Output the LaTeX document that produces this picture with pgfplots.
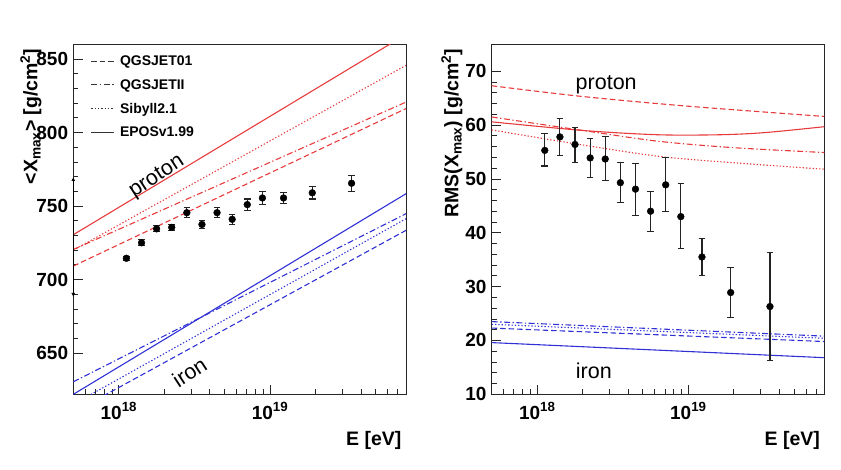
\documentclass[border=0pt]{standalone}
\usepackage{fontspec}
\setmainfont{Liberation Sans}
\usepackage{pgfplots}
\pgfplotsset{compat=1.18}
\usetikzlibrary{arrows.meta}
\definecolor{rootred}{RGB}{232,58,58}
\definecolor{rootblue}{RGB}{48,48,215}
\definecolor{errgray}{RGB}{35,35,35}
\newcommand{\tickfont}{\fontsize{19bp}{22bp}\selectfont\bfseries}
\newcommand{\titlefont}{\fontsize{19.5bp}{23bp}\selectfont\bfseries}
\newcommand{\legfont}{\fontsize{14bp}{16bp}\selectfont\bfseries}
\newcommand{\labfont}{\fontsize{21.5bp}{24bp}\selectfont}

\tikzset{
  qgs01/.style={line width=1.1pt, dash pattern=on 5.5bp off 3bp},
  qgs2/.style={line width=1.1pt, dash pattern=on 6bp off 2.5bp on 1.3bp off 2.5bp},
  sib/.style={line width=1.1pt, dash pattern=on 1.3bp off 2bp},
  epos/.style={line width=1.1pt, solid},
}

\pgfplotstableread{
E        X      err
1.122e18 714.5  1.5
1.413e18 725.0  2.0
1.778e18 734.5  2.0
2.239e18 735.5  2.0
2.818e18 745.5  3.3
3.548e18 737.5  2.9
4.467e18 745.5  3.4
5.623e18 741.0  3.5
7.079e18 751.0  3.8
8.913e18 755.5  4.3
1.230e19 755.5  3.8
1.905e19 759.0  4.2
3.467e19 765.5  5.5
}\meanxmax

\pgfplotstableread{
E        R     ep    em
1.122e18 55.3  3.1   2.9
1.413e18 57.8  3.4   3.4
1.778e18 56.4  3.2   3.3
2.239e18 53.9  3.6   3.7
2.818e18 53.7  4.1   4.0
3.548e18 49.3  3.8   3.6
4.467e18 48.1  4.8   4.9
5.623e18 44.0  3.7   3.7
7.079e18 48.9  5.1   4.9
8.913e18 43.0  6.2   6.0
1.230e19 35.5  3.5   3.4
1.905e19 28.9  4.6   4.6
3.467e19 26.3  10.0  10.0
}\rmsxmax

\begin{document}
\begin{tikzpicture}
\useasboundingbox (0,0) rectangle (841bp,470bp);

% ---------------- left panel ----------------
\begin{axis}[
  scale only axis, width=332.7bp, height=350bp,
  at={(73.3bp,75.7bp)}, anchor=south west,
  xmode=log, xmin=5e17, xmax=7.95e19,
  ymin=622, ymax=860, ytick={650,700,750,800,850}, minor y tick num=4,
  axis line style={line width=0.9pt, black!85},
  tick style={line width=0.8pt, black!85},
  tick align=inside, xtick pos=left, ytick pos=left,
  major tick length=9.5bp, minor tick length=4.8bp,
  xtick={1e18,1e19},
  xticklabels={10\textsuperscript{18},10\textsuperscript{19}},
  minor xtick={6e17,7e17,8e17,9e17,2e18,3e18,4e18,5e18,6e18,7e18,8e18,9e18,2e19,3e19,4e19,5e19,6e19,7e19},
  xticklabel style={font=\tickfont, anchor=north, inner sep=0pt, yshift=-8bp},
  yticklabel style={font=\tickfont, anchor=east, inner sep=0pt, xshift=-5bp},
  /pgf/number format/assume math mode=true,
  legend style={at={(0,1)}, anchor=north west,
    xshift=17.4bp, yshift=-9bp, draw=none, fill=none, inner sep=0pt,
    font=\legfont, row sep=8.5bp, column sep=3.4bp},
  legend cell align=left,
  legend image code/.code={\draw[#1] (0bp,0bp) -- (22.6bp,0bp);},
]
\addlegendimage{qgs01, black!80}
\addlegendentry{QGSJET01}
\addlegendimage{qgs2, black!80}
\addlegendentry{QGSJETII}
\addlegendimage{sib, black!80}
\addlegendentry{Sibyll2.1}
\addlegendimage{epos, black!80}
\addlegendentry{EPOSv1.99}

% proton
\addplot[epos, rootred, forget plot] coordinates {(5e17,730.5) (7.95e19,866.7)};
\addplot[sib, rootred, forget plot] coordinates {(5e17,720.0) (7.95e19,845.7)};
\addplot[qgs2, rootred, forget plot] coordinates {(5e17,720.5) (7.95e19,820.7)};
\addplot[qgs01, rootred, forget plot] coordinates {(5e17,709.2) (7.95e19,816.3)};
% iron
\addplot[epos, rootblue, forget plot] coordinates {(5e17,622.0) (7.95e19,758.4)};
\addplot[qgs2, rootblue, forget plot] coordinates {(5e17,630.5) (7.95e19,744.8)};
\addplot[sib, rootblue, forget plot] coordinates {(5e17,615.5) (6.31e17,621.0) (7.95e19,741.4)};
\addplot[qgs01, rootblue, forget plot] coordinates {(5e17,609.7) (7.94e17,621.0) (7.95e19,733.5)};

\addplot[forget plot, only marks, mark=*, mark size=3.4bp, black,
  error bars/y dir=both, error bars/y explicit,
  error bars/error bar style={line width=1.1pt, errgray},
  error bars/error mark options={rotate=90, line width=1.1pt, errgray, mark size=3.3bp}]
  table[x=E, y=X, y error=err] {\meanxmax};

\node[font=\labfont, rotate=33] at (axis cs:1.79e18,769.7) {proton};
\node[font=\labfont, rotate=33] at (axis cs:2.93e18,637) {iron};
\end{axis}

% ---------------- right panel ----------------
\begin{axis}[
  scale only axis, width=332.7bp, height=350bp,
  at={(491.7bp,75.7bp)}, anchor=south west,
  xmode=log, xmin=5e17, xmax=7.95e19,
  ymin=10, ymax=75, ytick={10,20,30,40,50,60,70}, minor y tick num=4,
  axis line style={line width=0.9pt, black!85},
  tick style={line width=0.8pt, black!85},
  tick align=inside, xtick pos=left, ytick pos=left,
  major tick length=9.5bp, minor tick length=4.8bp,
  xtick={1e18,1e19},
  xticklabels={10\textsuperscript{18},10\textsuperscript{19}},
  minor xtick={6e17,7e17,8e17,9e17,2e18,3e18,4e18,5e18,6e18,7e18,8e18,9e18,2e19,3e19,4e19,5e19,6e19,7e19},
  xticklabel style={font=\tickfont, anchor=north, inner sep=0pt, yshift=-8bp},
  yticklabel style={font=\tickfont, anchor=east, inner sep=0pt, xshift=-5bp},
  /pgf/number format/assume math mode=true,
]
% proton
\addplot[qgs01, rootred, smooth] coordinates {(5e17,67.3) (2e18,65.3) (1e19,63.5) (7.95e19,61.6)};
\addplot[epos, rootred, smooth] coordinates {(5e17,60.6) (2e18,59.0) (6.3e18,58.2) (1.6e19,58.2) (3.2e19,58.6) (7.95e19,59.7)};
\addplot[qgs2, rootred, smooth] coordinates {(5e17,61.5) (2e18,59.0) (6.3e18,57.0) (2e19,55.8) (7.95e19,54.9)};
\addplot[sib, rootred, smooth] coordinates {(5e17,59.1) (2e18,56.3) (6.8e18,54.1) (2.5e19,52.8) (7.95e19,51.8)};
% iron
\addplot[qgs2, rootblue] coordinates {(5e17,23.5) (7.95e19,20.8)};
\addplot[sib, rootblue] coordinates {(5e17,23.0) (7.95e19,20.4)};
\addplot[qgs01, rootblue] coordinates {(5e17,22.3) (7.95e19,19.8)};
\addplot[epos, rootblue] coordinates {(5e17,19.6) (7.95e19,16.8)};

\addplot[only marks, mark=*, mark size=3.4bp, black,
  error bars/y dir=both, error bars/y explicit,
  error bars/error bar style={line width=1.1pt, errgray},
  error bars/error mark options={rotate=90, line width=1.1pt, errgray, mark size=3.3bp}]
  table[x=E, y=R, y error plus=ep, y error minus=em] {\rmsxmax};

\node[font=\labfont] at (axis cs:2.86e18,67.4) {proton};
\node[font=\labfont] at (axis cs:2.37e18,14.4) {iron};
\end{axis}

% y-axis marker artefact on the left panel
\draw[line width=1.3pt, black, {Latex[length=4bp,width=4bp]}-{Latex[length=4bp,width=4bp]}]
  (73.3bp,173bp) -- (73.3bp,293bp);

% axis titles
\node[font=\titlefont, anchor=east] at (405bp,30bp) {E [eV]};
\node[font=\titlefont, anchor=east] at (823.5bp,30bp) {E [eV]};
\node[font=\titlefont, rotate=90, anchor=east] at (31bp,425bp) {<X\textsubscript{max}> [g/cm\textsuperscript{2}]};
\node[font=\titlefont, rotate=90, anchor=east] at (452bp,425bp) {RMS(X\textsubscript{max}) [g/cm\textsuperscript{2}]};
\end{tikzpicture}
\end{document}
